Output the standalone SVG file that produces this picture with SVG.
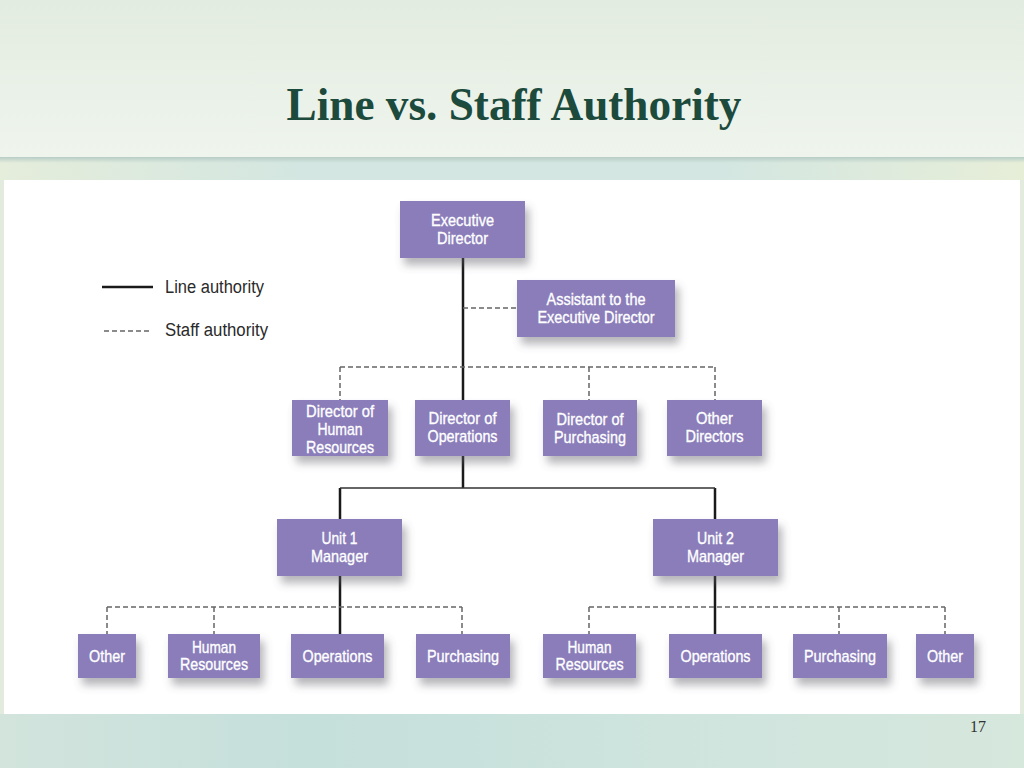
<svg xmlns="http://www.w3.org/2000/svg" width="1024" height="768" viewBox="0 0 1024 768">
<defs>
<linearGradient id="hdr" x1="0" y1="0" x2="0" y2="1">
<stop offset="0" stop-color="#e3ece1"/>
<stop offset="1" stop-color="#eff5ed"/>
</linearGradient>
<linearGradient id="band" x1="0" y1="0" x2="1" y2="0">
<stop offset="0" stop-color="#e5eddb"/>
<stop offset="0.3" stop-color="#d3e6e1"/>
<stop offset="0.7" stop-color="#d3e6e1"/>
<stop offset="1" stop-color="#e7eed8"/>
</linearGradient>
<linearGradient id="foot" x1="0" y1="0" x2="1" y2="0">
<stop offset="0" stop-color="#d2e4dc"/>
<stop offset="0.3" stop-color="#c5dfdb"/>
<stop offset="0.8" stop-color="#d2e6de"/>
<stop offset="1" stop-color="#d6e7dc"/>
</linearGradient>
<linearGradient id="edge" x1="0" y1="0" x2="0" y2="1">
<stop offset="0" stop-color="#b7cdc6"/>
<stop offset="1" stop-color="#b7cdc6" stop-opacity="0"/>
</linearGradient>
<filter id="sh" x="-20%" y="-20%" width="150%" height="170%">
<feDropShadow dx="4" dy="7" stdDeviation="4" flood-color="#5a5a66" flood-opacity="0.45"/>
</filter>
<style>
.box{fill:#8a7dba;filter:url(#sh)}
.bt{font-family:"Liberation Sans",Arial,sans-serif;font-size:17px;fill:#ffffff;text-anchor:middle;dominant-baseline:central;stroke:#ffffff;stroke-width:0.35}
.solid{stroke:#1a1a1a;stroke-width:2.5;fill:none}
.thin{stroke:#333333;stroke-width:1.5;fill:none}
.dash{stroke:#666666;stroke-width:1.5;stroke-dasharray:5 3;fill:none}
.leg{font-family:"Liberation Sans",Arial,sans-serif;font-size:18px;fill:#2a2a2a;dominant-baseline:central}
</style>
</defs>
<rect x="0" y="0" width="1024" height="158" fill="url(#hdr)"/>
<rect x="0" y="157" width="1024" height="24" fill="url(#band)"/>
<rect x="0" y="157" width="1024" height="6" fill="url(#edge)"/>
<rect x="0" y="180" width="1024" height="534" fill="#e2ebdd"/>
<rect x="4" y="180" width="1016" height="534" fill="#ffffff"/>
<rect x="0" y="714" width="1024" height="54" fill="url(#foot)"/>
<text x="514" y="120" font-family="'Liberation Serif','Times New Roman',serif" font-weight="bold" font-size="46" fill="#1c4a3c" text-anchor="middle" textLength="455" lengthAdjust="spacingAndGlyphs">Line vs. Staff Authority</text>
<text x="978" y="732" font-family="'Liberation Serif','Times New Roman',serif" font-size="16" fill="#333333" text-anchor="middle">17</text>
<g id="legend">
<line x1="102" y1="287" x2="153" y2="287" class="solid"/>
<text x="165" y="287" class="leg" textLength="99" lengthAdjust="spacingAndGlyphs">Line authority</text>
<line x1="104" y1="331" x2="150" y2="331" class="dash"/>
<text x="165" y="330" class="leg" textLength="103" lengthAdjust="spacingAndGlyphs">Staff authority</text>
</g>
<g id="connectors">
<path class="solid" d="M463 258 V400 M463 456 V488 M340 488 V519 M715 488 V519 M340 576 V634 M715 576 V634"/>
<path class="thin" d="M340 488 H715"/>
<path class="dash" d="M463 308 H517 M340 367 H715 M340 367 V400 M589 367 V400 M715 367 V400 M107 607 H462 M107 607 V634 M214 607 V634 M462 607 V634 M589 607 H945 M589 607 V634 M839 607 V634 M945 607 V634"/>
</g>
<g id="exec"><rect class="box" x="400" y="201" width="125" height="57"/><text class="bt" x="462.5" y="220" textLength="63" lengthAdjust="spacingAndGlyphs">Executive</text><text class="bt" x="462.5" y="238" textLength="51" lengthAdjust="spacingAndGlyphs">Director</text></g>
<g id="assistant"><rect class="box" x="517" y="280" width="158" height="57"/><text class="bt" x="596" y="299" textLength="99" lengthAdjust="spacingAndGlyphs">Assistant to the</text><text class="bt" x="596" y="317" textLength="117" lengthAdjust="spacingAndGlyphs">Executive Director</text></g>
<g id="dir-hr"><rect class="box" x="292" y="400" width="96" height="56"/><text class="bt" x="340" y="411" textLength="68" lengthAdjust="spacingAndGlyphs">Director of</text><text class="bt" x="340" y="429" textLength="45" lengthAdjust="spacingAndGlyphs">Human</text><text class="bt" x="340" y="447" textLength="68" lengthAdjust="spacingAndGlyphs">Resources</text></g>
<g id="dir-ops"><rect class="box" x="415" y="400" width="95" height="56"/><text class="bt" x="462.5" y="418" textLength="68" lengthAdjust="spacingAndGlyphs">Director of</text><text class="bt" x="462.5" y="436" textLength="70" lengthAdjust="spacingAndGlyphs">Operations</text></g>
<g id="dir-pur"><rect class="box" x="543" y="400" width="94" height="56"/><text class="bt" x="590" y="419" textLength="67" lengthAdjust="spacingAndGlyphs">Director of</text><text class="bt" x="590" y="437" textLength="72" lengthAdjust="spacingAndGlyphs">Purchasing</text></g>
<g id="dir-other"><rect class="box" x="667" y="400" width="95" height="56"/><text class="bt" x="714.5" y="418" textLength="37" lengthAdjust="spacingAndGlyphs">Other</text><text class="bt" x="714.5" y="436" textLength="58" lengthAdjust="spacingAndGlyphs">Directors</text></g>
<g id="unit1"><rect class="box" x="277" y="519" width="125" height="57"/><text class="bt" x="339.5" y="538" textLength="36" lengthAdjust="spacingAndGlyphs">Unit 1</text><text class="bt" x="339.5" y="556" textLength="57" lengthAdjust="spacingAndGlyphs">Manager</text></g>
<g id="unit2"><rect class="box" x="653" y="519" width="125" height="57"/><text class="bt" x="715.5" y="538" textLength="37" lengthAdjust="spacingAndGlyphs">Unit 2</text><text class="bt" x="715.5" y="556" textLength="57" lengthAdjust="spacingAndGlyphs">Manager</text></g>
<g id="u1-other"><rect class="box" x="78" y="634" width="58" height="44"/><text class="bt" x="107" y="656" textLength="36" lengthAdjust="spacingAndGlyphs">Other</text></g>
<g id="u1-hr"><rect class="box" x="168" y="634" width="92" height="44"/><text class="bt" x="214" y="647" textLength="44" lengthAdjust="spacingAndGlyphs">Human</text><text class="bt" x="214" y="664" textLength="68" lengthAdjust="spacingAndGlyphs">Resources</text></g>
<g id="u1-ops"><rect class="box" x="291" y="634" width="93" height="44"/><text class="bt" x="337.5" y="656" textLength="70" lengthAdjust="spacingAndGlyphs">Operations</text></g>
<g id="u1-pur"><rect class="box" x="416" y="634" width="94" height="44"/><text class="bt" x="463" y="656" textLength="72" lengthAdjust="spacingAndGlyphs">Purchasing</text></g>
<g id="u2-hr"><rect class="box" x="543" y="634" width="93" height="44"/><text class="bt" x="589.5" y="647" textLength="44" lengthAdjust="spacingAndGlyphs">Human</text><text class="bt" x="589.5" y="664" textLength="68" lengthAdjust="spacingAndGlyphs">Resources</text></g>
<g id="u2-ops"><rect class="box" x="669" y="634" width="93" height="44"/><text class="bt" x="715.5" y="656" textLength="70" lengthAdjust="spacingAndGlyphs">Operations</text></g>
<g id="u2-pur"><rect class="box" x="793" y="634" width="94" height="44"/><text class="bt" x="840" y="656" textLength="72" lengthAdjust="spacingAndGlyphs">Purchasing</text></g>
<g id="u2-other"><rect class="box" x="916" y="634" width="58" height="44"/><text class="bt" x="945" y="656" textLength="36" lengthAdjust="spacingAndGlyphs">Other</text></g>
</svg>
